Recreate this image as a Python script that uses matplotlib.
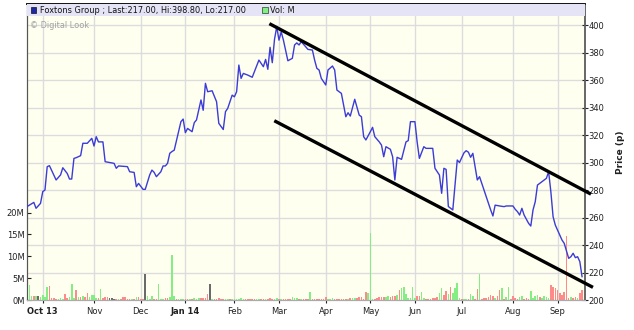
import matplotlib
matplotlib.use("Agg")
import matplotlib.pyplot as plt
from matplotlib.lines import Line2D
from matplotlib.patches import Rectangle
from matplotlib.transforms import blended_transform_factory

# ---------------- data ----------------
# trading-day index (0 = 20 Sep 2013) of month starts
month_pos = [7, 30, 51, 71, 93, 113, 134, 154, 174, 195, 218, 238]
month_labels = ["Oct 13", "Nov", "Dec", "Jan 14", "Feb", "Mar", "Apr", "May",
                "Jun", "Jul", "Aug", "Sep"]
bold_labels = ["Oct 13", "Jan 14"]

price_day = [0, 3, 4, 6, 7, 8, 9, 10, 13, 15, 16, 18, 19, 20, 21, 22, 24, 25, 27, 29,
             30, 31, 32, 34, 35, 39, 40, 41, 45, 46, 48, 49, 50, 52, 53, 55, 56, 57, 58, 60,
             61, 62, 63, 64, 65, 66, 69, 70, 71, 72, 74, 75, 76, 78, 79, 80, 81, 83, 85, 86,
             88, 89, 90, 92, 93, 94, 95, 96, 97, 99, 101, 104, 106, 107, 108, 109, 110, 111, 112, 113,
             114, 115, 117, 119, 120, 121, 122, 123, 125, 126, 128, 129, 130, 131, 132, 134, 135, 137, 138, 139,
             141, 143, 144, 145, 147, 149, 150, 151, 152, 154, 155, 156, 158, 159, 160, 161, 163, 164, 165, 166,
             168, 170, 171, 172, 174, 175, 176, 178, 179, 182, 183, 185, 186, 187, 188, 189, 191, 193, 194, 196,
             197, 198, 199, 200, 202, 203, 205, 206, 208, 209, 210, 212, 214, 215, 217, 218, 219, 220, 221, 222,
             223, 225, 226, 227, 228, 229, 231, 233, 234, 235, 236, 237, 238, 240, 241, 243, 244, 245, 246, 247,
             248, 249]
price = [268, 271, 266.7, 270.3, 278.8, 280, 297, 297.7, 287.3, 291, 296.2, 292, 288, 288, 303, 303.5, 305, 314, 314, 317.6,
         312, 318.8, 315, 315, 300.6, 299.4, 295.8, 297.5, 297, 293.3, 292.8, 282.4, 284.8, 280.5, 280.5, 291, 294.5, 292.8, 289.7, 293.3,
         297.5, 297.5, 299.4, 306.7, 308, 309, 329.7, 331.6, 321.7, 324.8, 322.4, 329, 331, 345.5, 338, 357.6, 351.5, 352.2, 344.2, 328.5,
         324, 337, 339.4, 349, 347.8, 351.5, 370.9, 361.2, 364.8, 363.6, 362, 374.5, 369.7, 375, 367.8, 383.8, 372.6, 389.6, 398.8, 389,
         395, 389, 374, 375.8, 385.5, 387, 385.5, 387.9, 384.2, 382.3, 381.8, 374.5, 368.5, 367.3, 361.2, 356.4, 367.3, 370.2, 367.3, 352.7,
         350.3, 333.3, 336.2, 333.8, 346, 334.5, 333.3, 318.8, 316.4, 322.4, 325.6, 318.8, 315, 312.7, 304.2, 311.5, 309.6, 304.2, 287.3, 303.8,
         302.3, 315, 315.9, 329.7, 329.7, 315, 303, 311.5, 310.3, 310.3, 295.8, 290.9, 277.6, 295.8, 295, 268, 265.5, 301.8, 300, 307,
         308.6, 307.5, 303.8, 306.7, 287.3, 289.7, 280, 275.1, 265.5, 261.1, 269, 268.4, 267.9, 268.4, 268.4, 268.4, 266, 264.3, 261.8, 266.7,
         261.8, 255.8, 253.8, 265.5, 271.5, 283.6, 286, 288.5, 293.3, 278.8, 260.6, 254.5, 250.9, 243.6, 241.2, 230.3, 231.5, 234, 230.8, 231.5,
         227.9, 217]

# daily volume (millions), one per trading day 0..249
volume = [10.7, 3.4, 1.0, 0.9, 1.0, 0.9, 0.8, 1.1, 0.8, 2.9,
          3.2, 0.4, 0.4, 0.3, 0.3, 0.4, 0.3, 1.4, 0.4, 0.8,
          3.7, 0.5, 2.3, 0.8, 0.6, 1.0, 0.8, 1.5, 0.6, 1.2,
          1.1, 0.5, 0.5, 2.5, 0.5, 0.7, 0.7, 0.4, 0.4, 0.3,
          0.3, 0.2, 0.2, 0.6, 0.6, 0.2, 0.3, 0.2, 0.3, 0.7,
          0.7, 0.3, 0.2, 5.95, 1.0, 0.3, 0.9, 0.3, 0.3, 3.7,
          0.3, 0.3, 0.5, 0.4, 0.8, 10.3, 0.9, 0.2, 0.2, 0.3,
          0.3, 0.3, 0.3, 0.3, 0.3, 0.4, 0.3, 0.4, 0.4, 0.5,
          0.5, 1.4, 3.7, 0.3, 0.3, 0.3, 0.5, 0.3, 0.2, 0.3,
          0.3, 0.2, 0.3, 0.3, 0.3, 0.3, 0.4, 0.2, 0.2, 0.2,
          0.3, 0.3, 0.2, 0.2, 0.3, 0.3, 0.2, 0.3, 0.3, 0.4,
          0.3, 0.3, 0.4, 0.3, 0.3, 0.2, 0.2, 0.3, 0.2, 0.8,
          0.5, 0.4, 0.3, 0.3, 0.2, 0.2, 0.3, 1.8, 0.2, 0.3,
          0.3, 0.2, 0.3, 0.3, 0.7, 0.3, 0.3, 0.4, 0.3, 0.3,
          0.3, 0.3, 0.3, 0.3, 0.3, 0.4, 0.4, 0.5, 0.4, 0.7,
          0.7, 0.3, 1.75, 1.5, 15.3, 0.3, 0.3, 0.5, 0.6, 0.8,
          0.6, 0.8, 0.9, 0.7, 0.9, 1.0, 1.1, 2.4, 2.7, 2.9,
          1.4, 0.4, 0.5, 2.9, 0.5, 1.0, 0.9, 1.9, 0.5, 0.3,
          0.3, 0.3, 0.5, 0.4, 0.6, 1.5, 2.8, 1.1, 2.1, 1.3,
          2.9, 1.5, 2.8, 3.8, 0.4, 0.3, 0.2, 0.3, 0.3, 1.4,
          1.0, 0.3, 2.6, 6.0, 0.3, 0.4, 0.5, 0.8, 1.1, 0.9,
          0.4, 1.0, 2.3, 2.7, 0.3, 0.6, 2.9, 0.3, 1.0, 0.4,
          0.3, 0.6, 0.9, 0.3, 0.5, 0.3, 2.0, 0.4, 0.9, 1.1,
          0.8, 0.4, 0.9, 0.6, 0.5, 3.4, 3.05, 2.7, 2.3, 1.5,
          1.1, 1.9, 14.7, 0.4, 0.6, 0.5, 0.8, 0.4, 1.5, 2.3]
# g = up day, r = down day, k = unchanged
vol_dir = ("gggrgkgggg" "rrrrgggrrg" "ggrgrgrrgg" "ggrgrrrkkk" "rgrrrrrgrg"
           "rrrkgggrrg" "ggrrgggrgg" "grrgrgggrr" "rrkgrrrrrg" "grggggggrr"
           "rrrggrrgrr" "rggrgrrrrg" "ggrgrrrgrr" "rrrrrgggrr" "rrrrgrggrr"
           "rrrgggrrrr" "rggrrrgrgg" "gggggrrggr" "rrrrrggrrg" "rggggrggrg"
           "grrgrrrrrr" "grrgrggrrr" "rggrrrgggg" "rggggrrrrr" "rrrrgrrgrr")
vol_days = list(range(len(volume)))

# trend channel (day, price)
upper_day = [108.7, 253]
upper_price = [401.0, 277.0]
lower_day = [110.9, 253.9]
lower_price = [330.4, 209.2]

vol_ticks = [0, 5, 10, 15, 20]
vol_ticklabels = ["0M", "5M", "10M", "15M", "20M"]
price_ticks = list(range(200, 401, 20))

# ---------------- styling ----------------
plt.rcParams['font.family'] = ['DejaVu Sans']
W, H = 634, 330
fig = plt.figure(figsize=(W / 100, H / 100), dpi=100)
fig.patch.set_facecolor("white")

L, R, T, B = 26.7, 584.5, 4.0, 300.0
ax = fig.add_axes([L / W, (H - B) / H, (R - L) / W, (B - T) / H])
ax.set_facecolor("#FFFFF0")
ax2 = ax.twinx()

ax.set_xlim(-0.2, 250.1)
ax.set_ylim(0, 67.7)
ax2.set_ylim(200, 415.3)

grid_c = "#DCDCDC"
for m in month_pos:
    ax.axvline(m, color=grid_c, lw=1.0, zorder=0)
btr = blended_transform_factory(ax.transAxes, ax2.transData)
for p in price_ticks:
    ax.add_line(Line2D([0, 1], [p, p], transform=btr, color=grid_c, lw=1.0, zorder=0))

cmap = {"g": "#84EE84", "r": "#FF8A8A", "k": "#6A6A6A"}
bar_colors = [cmap[c] for c in vol_dir]
ax.bar(vol_days, volume, width=0.72, color=bar_colors, linewidth=0, zorder=2)

ax2.plot(price_day, price, color="#3B3BD8", lw=1.0, zorder=3)
ax2.plot(upper_day, upper_price, color="black", lw=2.4, solid_capstyle="butt", clip_on=False, zorder=4)
ax2.plot(lower_day, lower_price, color="black", lw=2.4, solid_capstyle="butt", clip_on=False, zorder=4)

# ticks
ax.set_xticks(month_pos)
ax.set_xticklabels(month_labels)
for lbl in ax.get_xticklabels():
    if lbl.get_text() in bold_labels:
        lbl.set_fontweight("bold")
ax.tick_params(axis="x", labelsize=6, colors="#222222", length=2, pad=3, direction="out")
ax.set_yticks(vol_ticks)
ax.set_yticklabels(vol_ticklabels)
ax.tick_params(axis="y", labelsize=6, colors="#222222", length=3, pad=1.5, direction="in")
ax2.set_yticks(price_ticks)
ax2.tick_params(axis="y", labelsize=6, colors="#222222", length=4, pad=1, direction="inout")
ax2.set_ylabel("Price (p)", fontsize=6.5, fontweight="bold", labelpad=8, color="#222222")

for a in (ax, ax2):
    a.spines["top"].set_color("#111111")
    a.spines["top"].set_linewidth(1.2)
    a.spines["left"].set_color("#555555")
    a.spines["right"].set_color("#666666")
    a.spines["right"].set_linewidth(1.2)
    a.spines["bottom"].set_color("#AAAAAA")

# header band
band_h = 11.5 / (B - T)
ax2.add_patch(Rectangle((0, 1 - band_h), 1, band_h, transform=ax2.transAxes,
                        facecolor="#E4E4F6", edgecolor="none", zorder=5, clip_on=False))
ax2.text((40 - L) / (R - L), 1 - 6.2 / (B - T),
         "Foxtons Group ; Last:217.00, Hi:398.80, Lo:217.00",
         transform=ax2.transAxes, fontsize=5.9, color="#111111", va="center", ha="left", zorder=6)
ax2.text((270 - L) / (R - L), 1 - 6.2 / (B - T), "Vol: M",
         transform=ax2.transAxes, fontsize=5.9, color="#111111", va="center", ha="left", zorder=6)
fig.patches.append(Rectangle((262 / W, (H - 12.5) / H), 5.5 / W, 5.5 / H,
                             transform=fig.transFigure, facecolor="#84EE84",
                             edgecolor="#224422", lw=0.5, zorder=6))
fig.patches.append(Rectangle((30.5 / W, (H - 12.5) / H), 5.5 / W, 5.5 / H,
                             transform=fig.transFigure, facecolor="#1E2A9E",
                             edgecolor="#111133", lw=0.5, zorder=6))

ax2.text((30 - L) / (R - L), 1 - 21.5 / (B - T), "\u00a9 Digital Look",
         transform=ax2.transAxes, fontsize=5.9, color="#A0A0A0", va="center", ha="left", zorder=6)

fig.savefig("out.png", dpi=100)
